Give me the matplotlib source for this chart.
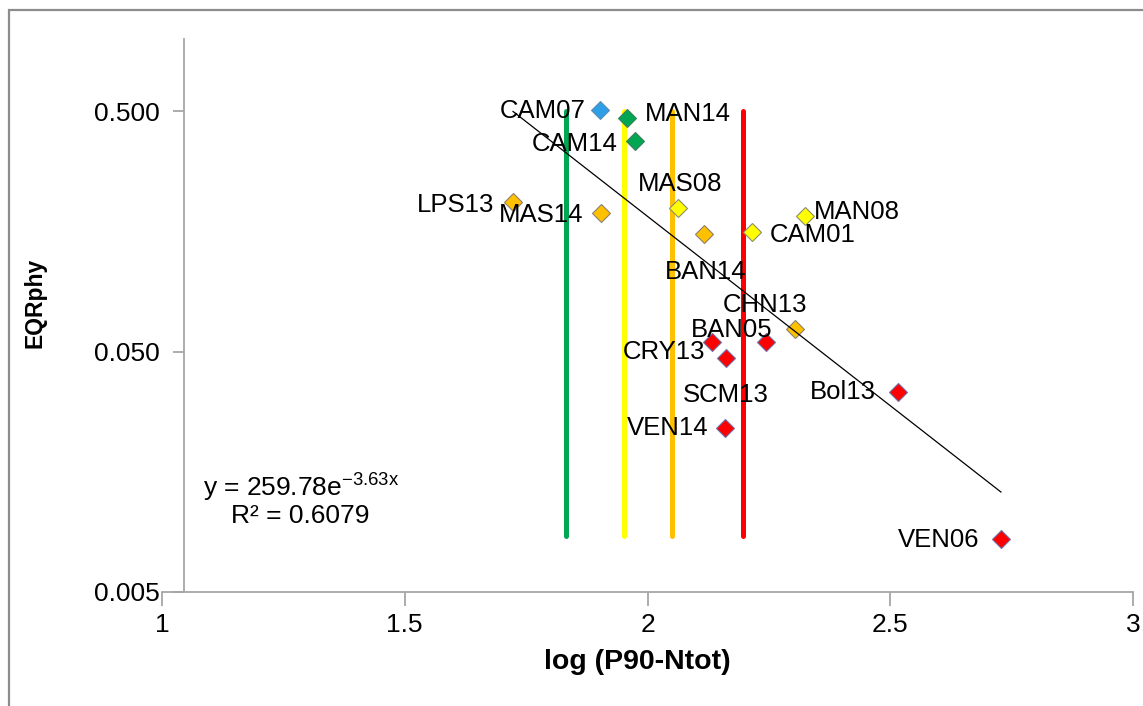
import numpy as np
import matplotlib.pyplot as plt
from matplotlib.patches import Rectangle
from matplotlib.ticker import FixedLocator, NullLocator

plt.rcParams['font.family'] = ['Liberation Sans', 'DejaVu Sans']
plt.rcParams['mathtext.fontset'] = 'custom'
plt.rcParams['mathtext.rm'] = 'Liberation Sans'

# sites, log(P90 Ntot) and EQR phytoplankton
sites = ['CAM07', 'MAN14', 'CAM14', 'LPS13', 'MAS14', 'MAS08', 'BAN14', 'CAM01',
         'MAN08', 'CHN13', 'BAN05', 'CRY13', 'SCM13', 'VEN14', 'Bol13', 'VEN06']
log_p90 = [1.903, 1.958, 1.975, 1.723, 1.904, 2.063, 2.117, 2.215,
           2.325, 2.304, 2.244, 2.133, 2.162, 2.160, 2.516, 2.728]
eqr = [0.506, 0.470, 0.376, 0.210, 0.189, 0.198, 0.154, 0.157,
       0.183, 0.062, 0.055, 0.055, 0.047, 0.024, 0.034, 0.0083]
status = ['high', 'good', 'good', 'mod', 'mod', 'suff', 'mod', 'suff',
          'suff', 'mod', 'bad', 'bad', 'bad', 'bad', 'bad', 'bad']

# class boundaries on log(P90 Ntot)
bound_x = [1.833, 1.951, 2.051, 2.197]
bound_lo, bound_hi = 0.0085, 0.5

# exponential fit
fit_a, fit_b = 259.78, -3.63

colors = {'high': '#2e9fe6', 'good': '#00a651', 'suff': '#ffff00',
          'mod': '#ffc000', 'bad': '#ff0000'}
bound_colors = ['#00a651', '#ffff00', '#ffc000', '#ff0000']
edges = {'high': '#5f8fb0', 'good': '#3f7f5f', 'suff': '#8c8c70',
         'mod': '#8c8070', 'bad': '#6f6fa8'}

# label offsets (pixels)
offsets = {'CAM07': (-58, -1), 'MAN14': (61, 4), 'CAM14': (-61, -3), 'LPS13': (-57, -3),
           'MAS14': (-60, -2), 'MAS08': (2, 24), 'BAN14': (1, -38), 'CAM01': (61, -3),
           'MAN08': (52, 4), 'CHN13': (-30, 24), 'BAN05': (-34, 12), 'CRY13': (-48, -10),
           'SCM13': (0, -37), 'VEN14': (-57, 0), 'Bol13': (-55, 0), 'VEN06': (-62, -1)}

fig = plt.figure(figsize=(11.43, 7.06), dpi=100)
ax = fig.add_axes([162 / 1143, 1 - 591.7 / 706, 971 / 1143, 552.7 / 706])

for bx, c in zip(bound_x, bound_colors):
    ax.plot([bx, bx], [bound_lo, bound_hi], color=c, lw=3.6,
            solid_capstyle='round', zorder=2)

for x, y, s in zip(log_p90, eqr, status):
    ax.plot(x, y, marker='D', ms=9.5, color=colors[s], mec=edges[s],
            mew=0.8, ls='none', zorder=3)

xf = np.linspace(min(log_p90), max(log_p90), 100)
ax.plot(xf, fit_a * np.exp(fit_b * xf), color='black', lw=0.9, zorder=4)

for name, x, y in zip(sites, log_p90, eqr):
    ax.annotate(name, (x, y), xytext=offsets[name], textcoords='offset pixels',
                ha='center', va='center', fontsize=18.5, zorder=5)

ax.text(0.143, 0.19, r'y = 259.78e$^{\mathrm{-3.63x}}$', transform=ax.transAxes,
        ha='center', va='center', fontsize=19)
ax.text(0.142, 0.137, 'R² = 0.6079', transform=ax.transAxes,
        ha='center', va='center', fontsize=19)

ax.set_yscale('log')
ax.set_xlim(1, 3)
ax.set_ylim(0.005, 1.0)
ax.yaxis.set_major_locator(FixedLocator([0.005, 0.05, 0.5]))
ax.yaxis.set_minor_locator(NullLocator())
ax.set_yticklabels(['0.005', '0.050', '0.500'])
ax.set_xticks([1, 1.5, 2, 2.5, 3])
ax.set_xticklabels(['1', '1.5', '2', '2.5', '3'])

for side in ['top', 'right']:
    ax.spines[side].set_visible(False)
ax.spines['left'].set_position(('data', 1.045))
for side in ['left', 'bottom']:
    ax.spines[side].set_color('#a6a6a6')
    ax.spines[side].set_linewidth(1.3)
ax.tick_params(axis='both', colors='#a6a6a6', labelcolor='black',
               labelsize=19, width=1.3)
ax.tick_params(axis='y', length=8, pad=9)
ax.tick_params(axis='x', length=10, pad=5)

ax.set_xlabel('log (P90-Ntot)', fontsize=20.5, fontweight='bold')
ax.xaxis.set_label_coords(0.489, -0.103)
fig.text(35 / 1143, 1 - 303 / 706, 'EQRphy', rotation=90, ha='center', va='center',
         fontsize=16.5, fontweight='bold')

fig.patches.append(Rectangle((9 / 1143, -0.1), 1.2, 1.0858, transform=fig.transFigure,
                             fill=False, edgecolor='#8c8c8c', lw=1.6))

fig.savefig('out.png', dpi=100)
